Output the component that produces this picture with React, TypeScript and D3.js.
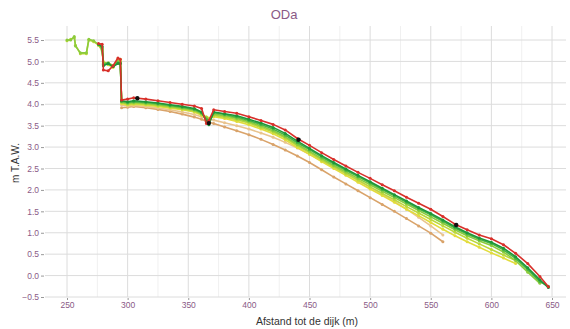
import * as d3 from 'd3'
import { useEffect, useRef } from 'react'

const W = 570
const H = 329
const plot = { left: 45, right: 566, top: 26, bottom: 297 }

// afstand tot de dijk (m)
const dist = [
  250, 253, 256, 257, 261, 266, 268, 272, 276, 279, 280, 284, 288, 292, 294, 295,
  300, 305, 315, 325, 335, 345, 355, 361, 365, 367, 371, 380, 390, 400, 410, 420,
  430, 440, 450, 460, 470, 480, 490, 500, 510, 520, 530, 540, 550, 560, 570, 580,
  590, 600, 610, 620, 630, 640, 647,
]

const orange = [
  null, null, null, null, null, null, null, null, null, null, null, null, null, null, null, 3.92,
  3.93, 3.95, 3.92, 3.88, 3.83, 3.77, 3.7, 3.65, 3.6, 3.58, 3.55, 3.47, 3.38, 3.29, 3.18, 3.06,
  2.93, 2.79, 2.64, 2.47, 2.3, 2.14, 1.98, 1.82, 1.66, 1.5, 1.33, 1.16, 0.99, 0.79, null, null,
  null, null, null, null, null, null, null,
]
const tan = [
  null, null, null, null, null, null, null, null, null, null, null, null, null, null, null, 3.98,
  3.96, 3.97, 3.95, 3.91, 3.87, 3.82, 3.76, 3.71, 3.68, 3.66, 3.63, 3.57, 3.5, 3.42, 3.33, 3.23,
  3.11, 2.98, 2.83, 2.68, 2.53, 2.38, 2.22, 2.06, 1.9, 1.73, 1.55, 1.36, 1.16, 0.95, null, null,
  null, null, null, null, null, null, null,
]
const yellow = [
  null, null, null, null, null, null, null, null, 5.38, 5.3, 5.0, 4.92, 4.86, 5.05, 5.05, 4.02,
  3.98, 4.0, 3.98, 3.95, 3.91, 3.87, 3.82, 3.74, 3.7, 3.68, 3.71, 3.67, 3.6, 3.52, 3.42, 3.31,
  3.17, 2.99, 2.83, 2.66, 2.5, 2.34, 2.18, 2.02, 1.87, 1.71, 1.55, 1.4, 1.24, 1.08, 0.93, 0.79,
  0.66, 0.53, 0.41, 0.28, null, null, null,
]
const yellowGreen = [
  5.48, 5.52, 5.55, 5.38, 5.18, 5.18, 5.5, 5.46, 5.38, 5.25, 4.95, 4.93, 4.88, 5.02, 5.0, 4.05,
  4.0, 4.02, 4.0, 3.97, 3.93, 3.89, 3.84, 3.76, 3.7, 3.66, 3.74, 3.7, 3.64, 3.56, 3.46, 3.35,
  3.21, 3.03, 2.87, 2.7, 2.54, 2.38, 2.23, 2.07, 1.92, 1.77, 1.61, 1.46, 1.31, 1.16, 1.01, 0.87,
  0.74, 0.61, 0.48, 0.35, null, null, null,
]
const lightGreen = [
  5.5, 5.5, 5.58, 5.36, 5.2, 5.2, 5.52, 5.48, 5.4, 5.28, 4.97, 4.97, 4.9, 5.0, 4.98, 4.05,
  4.02, 4.04, 4.02, 3.99, 3.95, 3.91, 3.86, 3.78, 3.68, 3.63, 3.77, 3.73, 3.67, 3.59, 3.49, 3.38,
  3.24, 3.06, 2.9, 2.73, 2.57, 2.42, 2.27, 2.12, 1.97, 1.82, 1.67, 1.52, 1.37, 1.22, 1.07, 0.93,
  0.81, 0.7, 0.55, 0.35, 0.08, -0.18, null,
]
const green = [
  null, null, null, null, null, null, null, null, 5.4, 5.32, 4.93, 4.95, 4.88, 4.97, 4.96, 4.07,
  4.04, 4.06, 4.04, 4.01, 3.97, 3.93, 3.88, 3.8, 3.65, 3.58, 3.8, 3.76, 3.7, 3.62, 3.53, 3.42,
  3.28, 3.1, 2.94, 2.77, 2.61, 2.46, 2.31, 2.16, 2.01, 1.86, 1.71, 1.56, 1.42, 1.27, 1.11, 0.97,
  0.85, 0.75, 0.6, 0.4, 0.14, -0.14, -0.25,
]
const darkGreen = [
  null, null, null, null, null, null, null, null, 5.4, 5.35, 4.9, 4.95, 4.88, 4.95, 4.95, 4.08,
  4.06, 4.08, 4.06, 4.03, 3.99, 3.95, 3.9, 3.82, 3.6, 3.52, 3.82, 3.78, 3.73, 3.65, 3.56, 3.46,
  3.32, 3.14, 2.97, 2.8, 2.64, 2.49, 2.34, 2.19, 2.04, 1.89, 1.74, 1.59, 1.45, 1.3, 1.14, 1.0,
  0.88, 0.78, 0.64, 0.44, 0.18, -0.1, -0.28,
]
const red = [
  null, null, null, null, null, null, null, null, 5.42, 5.4, 4.8, 4.78, 4.9, 5.08, 5.05, 4.1,
  4.12, 4.15, 4.12, 4.08, 4.04, 4.0, 3.96, 3.9, 3.55, 3.62, 3.87, 3.83, 3.79, 3.71, 3.62, 3.53,
  3.4, 3.2, 3.04, 2.87, 2.71, 2.56, 2.41, 2.27, 2.12, 1.98, 1.83, 1.69, 1.55, 1.38, 1.2, 1.07,
  0.95, 0.86, 0.72, 0.52, 0.28, -0.02, -0.26,
]

const series = [
  { values: orange, color: '#d9a36a' },
  { values: tan, color: '#e9c48e' },
  { values: yellow, color: '#e2dc3c' },
  { values: yellowGreen, color: '#bcd83a' },
  { values: lightGreen, color: '#8ccb3c' },
  { values: green, color: '#48b443' },
  { values: darkGreen, color: '#1e9638' },
  { values: red, color: '#d8302a' },
]

const markX = [308, 367, 441, 571]
const markY = [4.14, 3.56, 3.17, 1.18]

const xTicks = [250, 300, 350, 400, 450, 500, 550, 600, 650]
const xMinor = [225, 275, 325, 375, 425, 475, 525, 575, 625]
const yTicks = [-0.5, 0, 0.5, 1, 1.5, 2, 2.5, 3, 3.5, 4, 4.5, 5, 5.5]

const labelColor = '#8a5a86'
const font = 'Liberation Sans, Arial, sans-serif'

export default function App() {
  const ref = useRef<SVGSVGElement>(null)

  useEffect(() => {
    document.body.style.margin = '0'
    const svg = d3.select(ref.current)
    svg.selectAll('*').remove()

    const x = d3.scaleLinear().domain([250, 650]).range([67, 552])
    const y = d3.scaleLinear().domain([-0.5, 5.5]).range([297, 40])

    svg.append('rect').attr('width', W).attr('height', H).attr('fill', '#fff')

    const grid = svg.append('g')
    grid
      .selectAll('.xminor')
      .data(xMinor.filter((d) => x(d) > plot.left))
      .join('line')
      .attr('x1', (d) => x(d))
      .attr('x2', (d) => x(d))
      .attr('y1', plot.top)
      .attr('y2', plot.bottom)
      .attr('stroke', '#f0f0f0')
    grid
      .selectAll('.xmajor')
      .data(xTicks)
      .join('line')
      .attr('x1', (d) => x(d))
      .attr('x2', (d) => x(d))
      .attr('y1', plot.top)
      .attr('y2', plot.bottom)
      .attr('stroke', '#dcdcdc')
    grid
      .selectAll('.ymajor')
      .data(yTicks)
      .join('line')
      .attr('x1', plot.left)
      .attr('x2', plot.right)
      .attr('y1', (d) => y(d))
      .attr('y2', (d) => y(d))
      .attr('stroke', '#dcdcdc')

    const yAxis = d3
      .axisLeft(y)
      .tickValues(yTicks)
      .tickSize(3)
      .tickPadding(2)
      .tickFormat(d3.format('.1f'))
    const gy = svg.append('g').attr('transform', `translate(${plot.left - 1},0)`).call(yAxis)
    gy.select('.domain').remove()
    gy.selectAll('line').attr('stroke', '#999')
    gy.selectAll('text').attr('fill', labelColor).style('font', `8.5px ${font}`)

    const xAxis = d3.axisBottom(x).tickValues(xTicks).tickSize(2).tickPadding(2)
    const gx = svg.append('g').attr('transform', `translate(0,${plot.bottom + 1})`).call(xAxis)
    gx.select('.domain').remove()
    gx.selectAll('line').attr('stroke', '#999')
    gx.selectAll('text').attr('fill', labelColor).style('font', `8.5px ${font}`)

    const line = d3
      .line<number | null>()
      .defined((d) => d !== null)
      .x((_, i) => x(dist[i]))
      .y((d) => y(d as number))

    series.forEach((s) => {
      svg
        .append('path')
        .datum(s.values)
        .attr('d', line)
        .attr('fill', 'none')
        .attr('stroke', s.color)
        .attr('stroke-width', 1.6)
        .attr('stroke-linejoin', 'round')
      svg
        .append('g')
        .selectAll('circle')
        .data(s.values.map((v, i) => [dist[i], v]).filter((p) => p[1] !== null))
        .join('circle')
        .attr('cx', (p) => x(p[0] as number))
        .attr('cy', (p) => y(p[1] as number))
        .attr('r', 1.5)
        .attr('fill', s.color)
    })

    svg
      .append('g')
      .selectAll('circle')
      .data(markX)
      .join('circle')
      .attr('cx', (d) => x(d))
      .attr('cy', (_, i) => y(markY[i]))
      .attr('r', 2.2)
      .attr('fill', '#111')

    svg
      .append('text')
      .attr('x', 284)
      .attr('y', 19)
      .attr('text-anchor', 'middle')
      .attr('fill', labelColor)
      .style('font', `13px ${font}`)
      .text('ODa')

    svg
      .append('text')
      .attr('x', 307)
      .attr('y', 325)
      .attr('text-anchor', 'middle')
      .attr('fill', '#333')
      .style('font', `10.5px ${font}`)
      .text('Afstand tot de dijk (m)')

    svg
      .append('text')
      .attr('transform', 'translate(19,163) rotate(-90)')
      .attr('text-anchor', 'middle')
      .attr('fill', '#333')
      .style('font', `10px ${font}`)
      .text('m T.A.W.')
  }, [])

  return <svg ref={ref} width={W} height={H} style={{ display: 'block' }} />
}
